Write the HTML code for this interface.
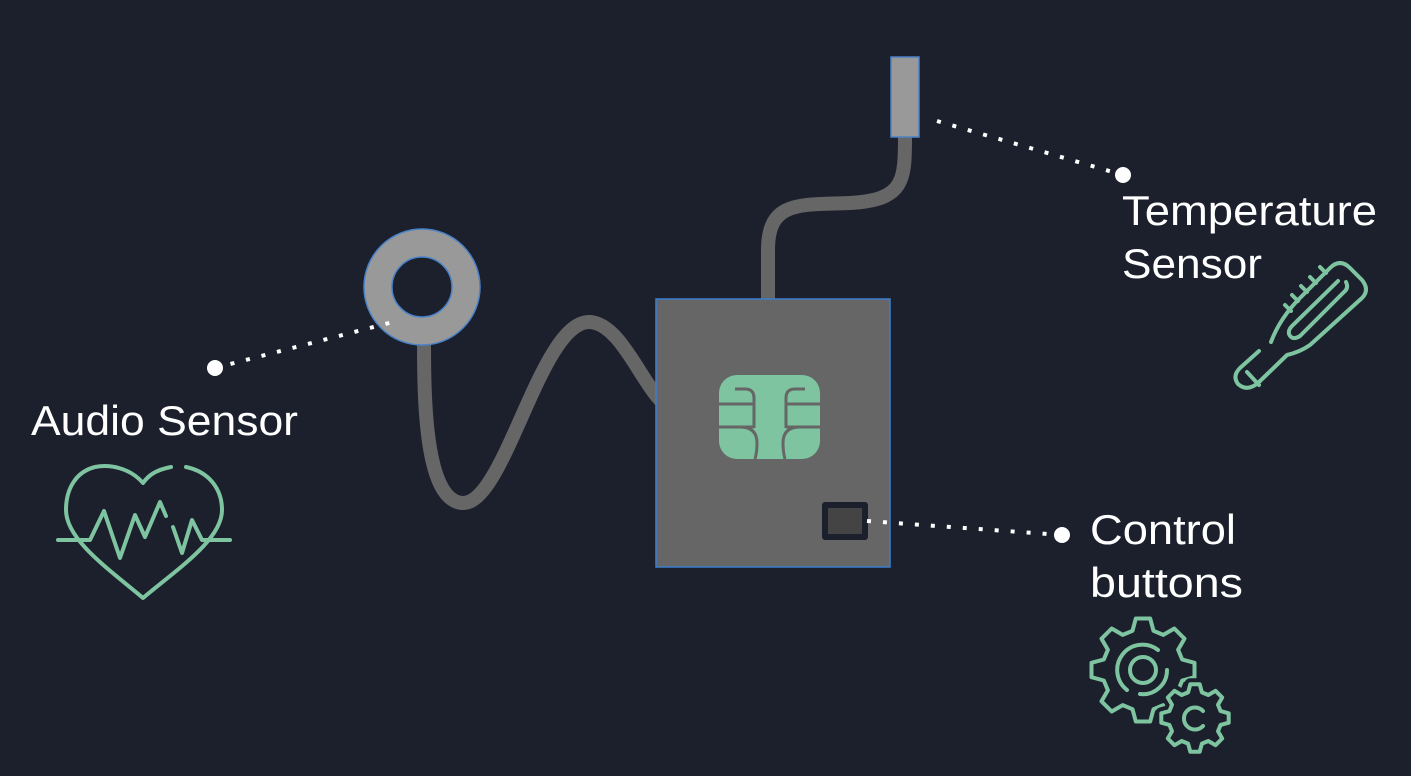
<!DOCTYPE html>
<html><head><meta charset="utf-8"><style>
html,body{margin:0;padding:0;background:#1b202c;}
svg{display:block;}
text{font-family:"Liberation Sans",sans-serif;fill:#fff;font-size:42px;}
</style></head><body>
<svg width="1411" height="776" viewBox="0 0 1411 776" xmlns="http://www.w3.org/2000/svg">
<rect width="1411" height="776" fill="#1b202c"/>
<!-- cables -->
<path d="M424,340 C424,400 425,500 462,503 C505,506 540,320 590,322 C620,324 640,380 662,402" fill="none" stroke="#666" stroke-width="14"/>
<path d="M768,302 L768,250 C768,200 800,205 850,203 C905,200 905,180 905,135" fill="none" stroke="#666" stroke-width="14"/>
<!-- ring -->
<circle cx="422" cy="287" r="44" fill="none" stroke="#999" stroke-width="28"/>
<circle cx="422" cy="287" r="58" fill="none" stroke="#4a82c8" stroke-width="1.5"/>
<circle cx="422" cy="287" r="30" fill="none" stroke="#4a82c8" stroke-width="1.5"/>
<!-- temp sensor -->
<rect x="891" y="57" width="28" height="80" fill="#999" stroke="#4a82c8" stroke-width="1.5"/>
<!-- box -->
<rect x="656" y="299" width="234" height="268" fill="#666" stroke="#3d7fcf" stroke-width="1.5"/>
<!-- chip -->
<rect x="719" y="375" width="101" height="84" rx="18" fill="#7ec4a0"/>
<g fill="none" stroke="#666" stroke-width="3">
<path d="M735,389 H745 Q754,389 754,398 V428"/>
<path d="M805,389 H795 Q786,389 786,398 V428"/>
<path d="M719,404 H754 M786,404 H820"/>
<path d="M719,427 H754 M786,427 H820"/>
<path d="M740,427 Q757,427 757,443 Q757,452 755,459"/>
<path d="M800,427 Q783,427 783,443 Q783,452 785,459"/>
</g>
<!-- button -->
<rect x="822" y="502" width="46" height="38" rx="3" fill="#1b202c"/>
<rect x="828" y="508" width="34" height="26" fill="#444"/>
<!-- dotted lines -->
<g stroke="#fff" stroke-width="4" stroke-dasharray="4 12" fill="none">
<line x1="215" y1="368" x2="393" y2="322"/>
<line x1="937" y1="121" x2="1123" y2="175"/>
<line x1="867" y1="521" x2="1062" y2="535"/>
</g>
<circle cx="215" cy="368" r="8" fill="#fff"/>
<circle cx="1123" cy="175" r="8" fill="#fff"/>
<circle cx="1062" cy="535" r="8" fill="#fff"/>
<!-- labels -->
<text x="31" y="435" textLength="267" lengthAdjust="spacingAndGlyphs">Audio Sensor</text>
<text x="1122" y="225" textLength="255" lengthAdjust="spacingAndGlyphs">Temperature</text>
<text x="1122" y="278" textLength="140" lengthAdjust="spacingAndGlyphs">Sensor</text>
<text x="1090" y="544" textLength="146" lengthAdjust="spacingAndGlyphs">Control</text>
<text x="1090" y="597" textLength="153" lengthAdjust="spacingAndGlyphs">buttons</text>
<!-- heart -->
<g fill="none" stroke="#7ec4a0" stroke-width="4" stroke-linecap="round" stroke-linejoin="round">
<path d="M171,467 C155,470 148,476 143,483 C130,468 110,464 95,467 C75,472 66,490 66,510 C66,540 110,570 143,598 C176,570 222,540 222,510 C222,490 210,472 186,467"/>
<path d="M58,540 H90 L104,511 L120,558 L135,515 L145,537 L160,502 L166,516 M173,527 L182,553 L192,520 L202,540 H230"/>
</g>
<!-- thermometer -->
<g fill="none" stroke="#7ec4a0" stroke-width="4" stroke-linecap="round" stroke-linejoin="round">
<path d="M1271,342 Q1280,318 1300,298 L1330,268 Q1340,258 1350,268 L1362,280 Q1370,290 1362,298 L1310,345 Q1300,352 1287,355 L1258,383 Q1247,392 1238,384 Q1232,376 1240,368 L1259,351"/>
<path d="M1346,282 Q1349,288 1344,292 L1300,336 Q1292,341 1289,334 Q1288,330 1292,326 L1338,281"/>
<path d="M1247,372 L1259,385"/>
<path d="M1326,273 l-6,-6 M1316,283 l-6,-6 M1307,292 l-6,-6 M1298,301 l-6,-6 M1291,311 l-6,-6"/>
</g>
<!-- gears -->
<g transform="translate(1143,670)" fill="none" stroke="#7ec4a0" stroke-width="4" stroke-linejoin="round" stroke-linecap="round">
<polygon points="39.2,-10.5 51.5,-7.2 51.5,7.2 39.2,10.5 35.1,20.3 41.5,31.3 31.3,41.5 20.3,35.1 10.5,39.2 7.2,51.5 -7.2,51.5 -10.5,39.2 -20.3,35.1 -31.3,41.5 -41.5,31.3 -35.1,20.3 -39.2,10.5 -51.5,7.2 -51.5,-7.2 -39.2,-10.5 -35.1,-20.3 -41.5,-31.3 -31.3,-41.5 -20.3,-35.1 -10.5,-39.2 -7.2,-51.5 7.2,-51.5 10.5,-39.2 20.3,-35.1 31.3,-41.5 41.5,-31.3 35.1,-20.3"/>
<circle cx="0" cy="0" r="13"/>
<path d="M-16,20 A25,25 0 0 1 15,-20 M24,0 A24,24 0 0 1 -3,24"/>
</g>
<g transform="translate(1195,718)" stroke-linejoin="round" stroke-linecap="round">
<polygon fill="#1b202c" stroke="#1b202c" stroke-width="12" points="25.6,-6.9 33.7,-4.7 33.7,4.7 25.6,6.9 23,13.3 27.2,20.5 20.5,27.2 13.3,23 6.9,25.6 4.7,33.7 -4.7,33.7 -6.9,25.6 -13.3,23 -20.5,27.2 -27.2,20.5 -23,13.3 -25.6,6.9 -33.7,4.7 -33.7,-4.7 -25.6,-6.9 -23,-13.3 -27.2,-20.5 -20.5,-27.2 -13.3,-23 -6.9,-25.6 -4.7,-33.7 4.7,-33.7 6.9,-25.6 13.3,-23 20.5,-27.2 27.2,-20.5 23,-13.3"/>
<polygon fill="none" stroke="#7ec4a0" stroke-width="4" points="25.6,-6.9 33.7,-4.7 33.7,4.7 25.6,6.9 23,13.3 27.2,20.5 20.5,27.2 13.3,23 6.9,25.6 4.7,33.7 -4.7,33.7 -6.9,25.6 -13.3,23 -20.5,27.2 -27.2,20.5 -23,13.3 -25.6,6.9 -33.7,4.7 -33.7,-4.7 -25.6,-6.9 -23,-13.3 -27.2,-20.5 -20.5,-27.2 -13.3,-23 -6.9,-25.6 -4.7,-33.7 4.7,-33.7 6.9,-25.6 13.3,-23 20.5,-27.2 27.2,-20.5 23,-13.3"/>
<path d="M8,-7 A11,11 0 1 0 8,8" fill="none" stroke="#7ec4a0" stroke-width="4"/>
</g>
</svg>
</body></html>
